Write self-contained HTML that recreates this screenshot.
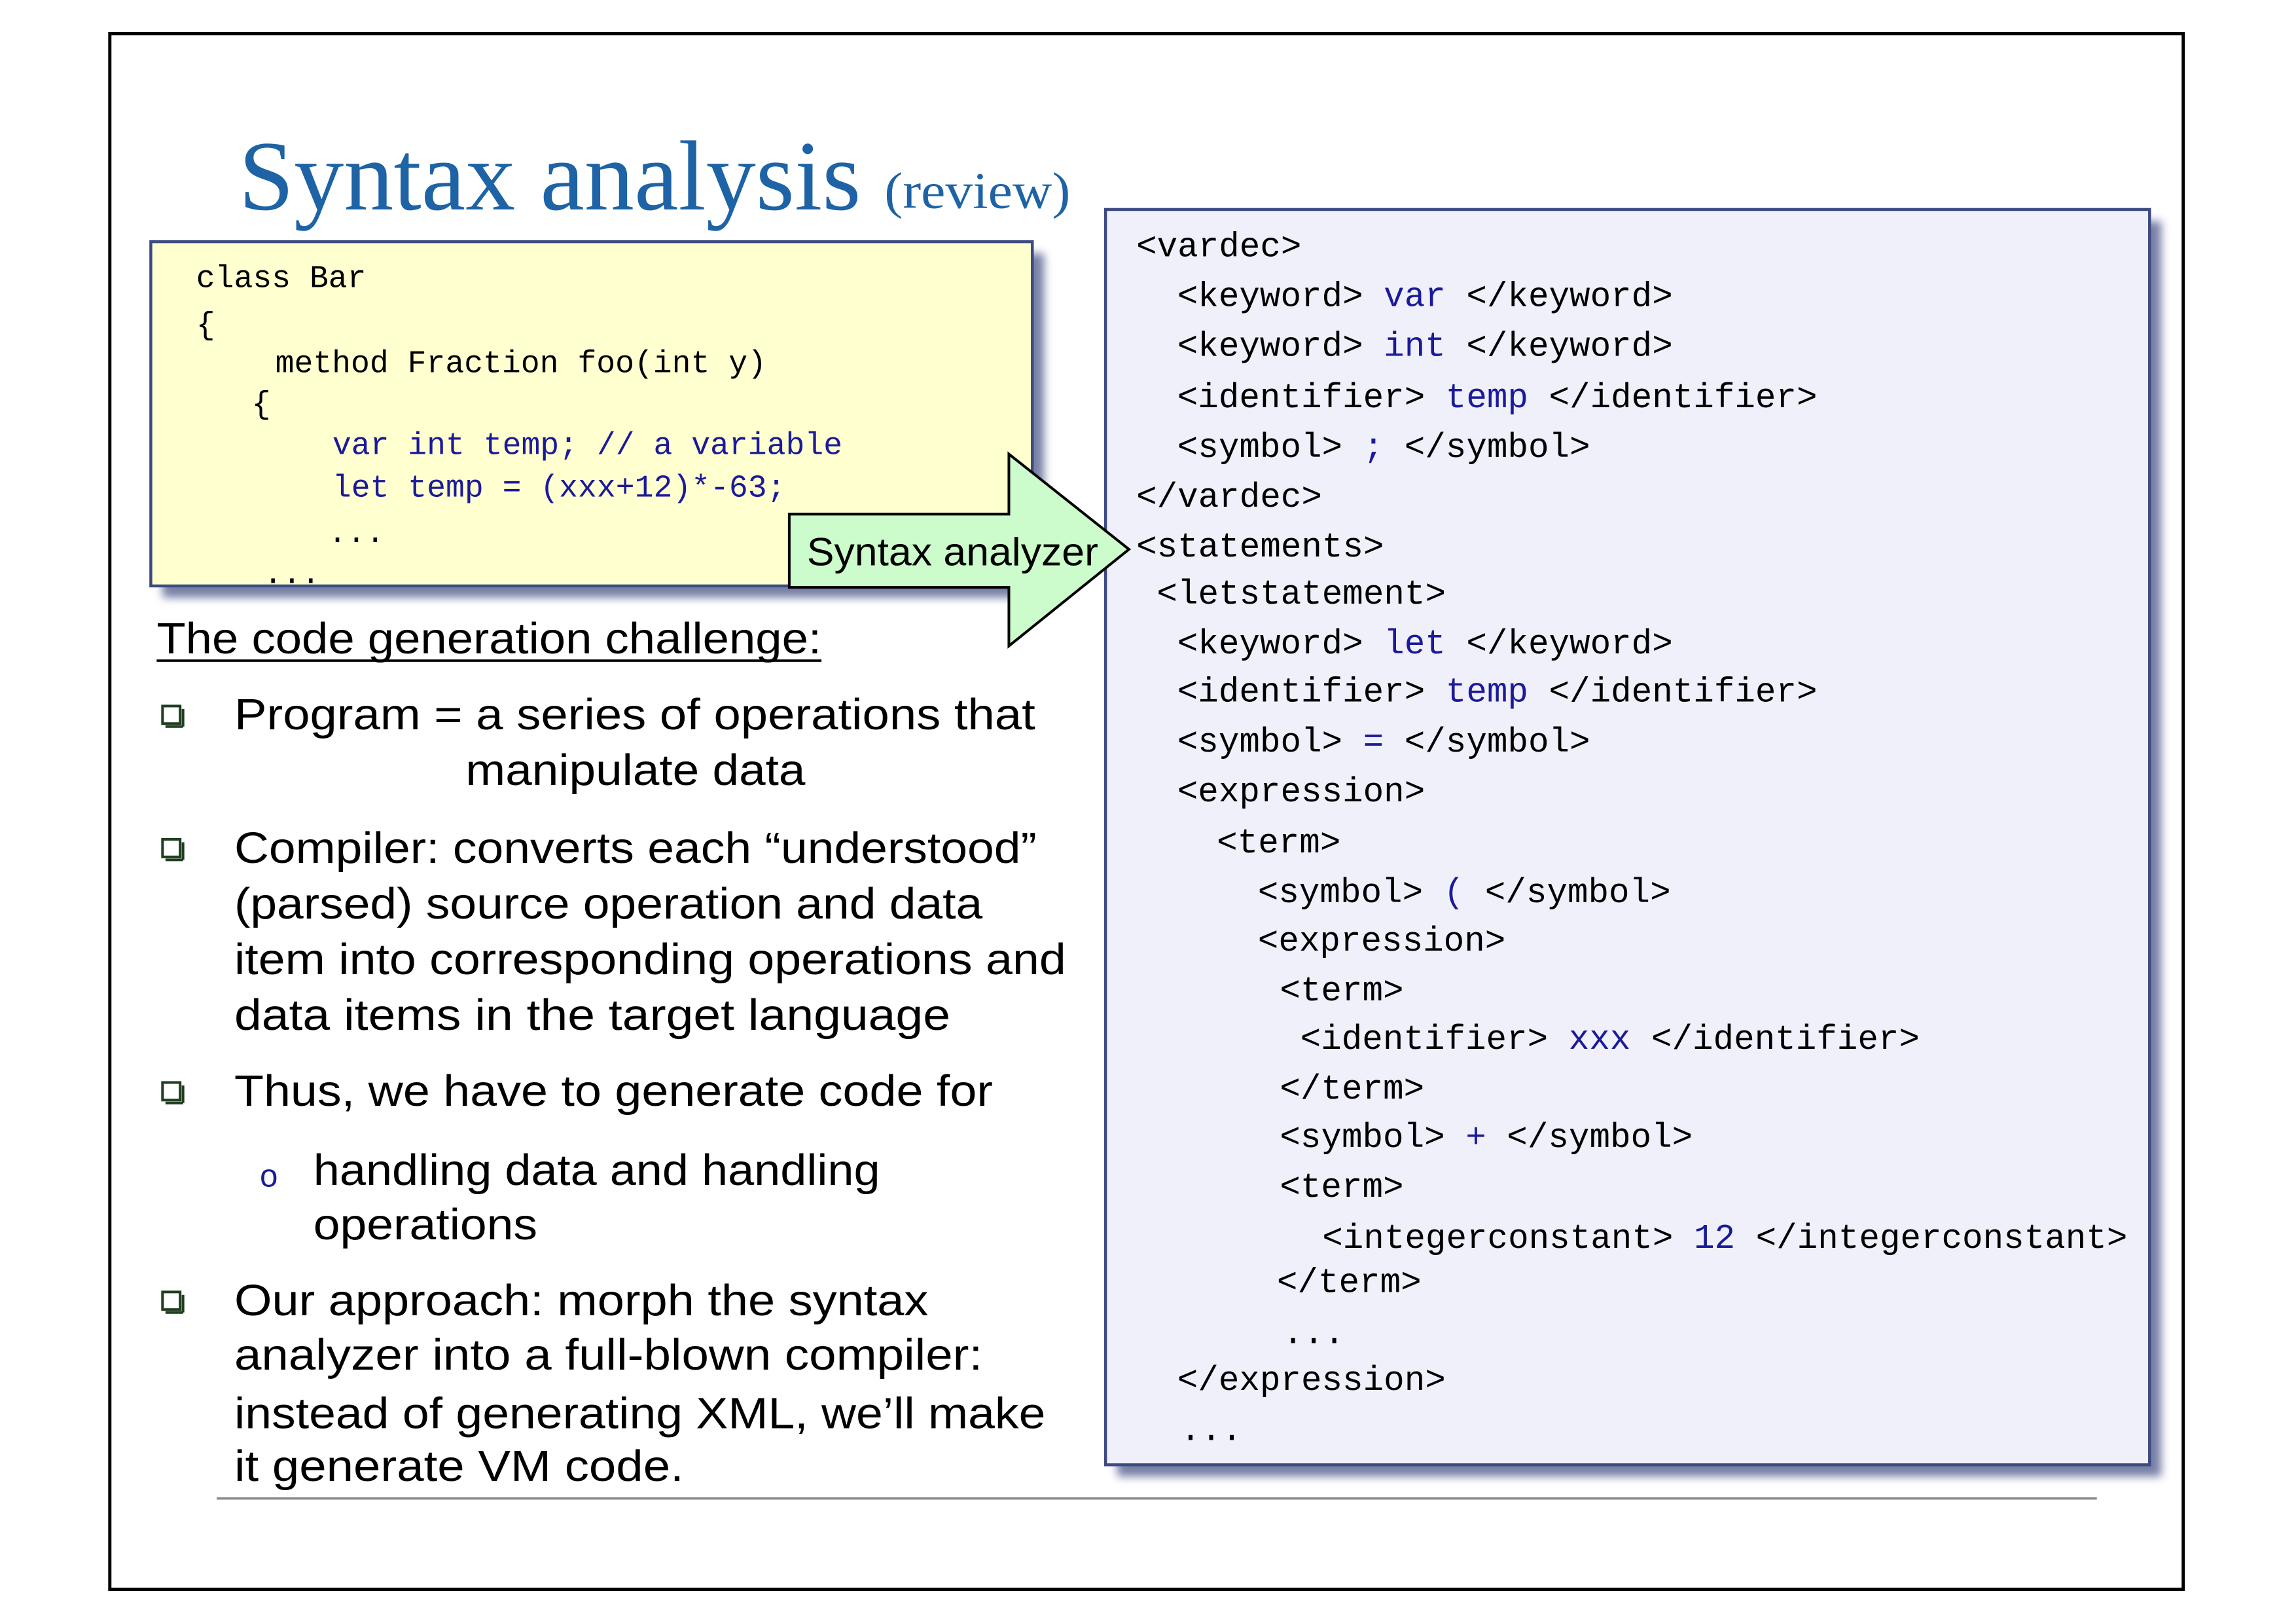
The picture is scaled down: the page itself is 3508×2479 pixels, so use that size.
<!DOCTYPE html>
<html><head><meta charset="utf-8"><style>html,body{margin:0;padding:0;background:#fff}svg{display:block}</style></head>
<body>
<svg xmlns="http://www.w3.org/2000/svg" width="3508" height="2479" viewBox="0 0 1568 1108" preserveAspectRatio="none">
<defs>
<filter id="sh" x="-10%" y="-10%" width="120%" height="120%"><feGaussianBlur stdDeviation="3"/></filter>
</defs>
<rect x="0" y="0" width="1568" height="1108" fill="#fff"/>
<rect x="75" y="23" width="1416" height="1062" fill="none" stroke="#000" stroke-width="2.2"/>
<text x="163" y="143" font-family="Liberation Serif, serif" font-size="68" fill="#1d63a6" textLength="425" lengthAdjust="spacingAndGlyphs">Syntax analysis</text>
<text x="604" y="142" font-family="Liberation Serif, serif" font-size="35" fill="#1d63a6" textLength="127" lengthAdjust="spacingAndGlyphs">(review)</text>
<rect x="111" y="173" width="602" height="235" fill="#4a5588" opacity="0.75" filter="url(#sh)"/>
<rect x="103" y="165" width="602" height="235" fill="#ffffd0" stroke="#3d4a82" stroke-width="2"/>
<g font-family="Liberation Mono, monospace" font-size="21.5" fill="#000">
<text x="134" y="196">class Bar</text>
<text x="134" y="228">{</text>
<text x="188" y="254">method Fraction foo(int y)</text>
<text x="172" y="282">{</text>
<text x="227" y="310" fill="#1a1a9a">var int temp; // a variable</text>
<text x="227" y="339" fill="#1a1a9a">let temp = (xxx+12)*-63;</text>
<text x="224" y="370">...</text>
<text x="180" y="398">...</text>
</g>
<rect x="763" y="151" width="713" height="857" fill="#4a5588" opacity="0.75" filter="url(#sh)"/>
<rect x="755" y="143" width="713" height="857" fill="#f0f0fb" stroke="#3d4a82" stroke-width="2"/>
<g font-family="Liberation Mono, monospace" font-size="23.5" fill="#000">
<text x="776" y="175">&lt;vardec&gt;</text>
<text x="804" y="209">&lt;keyword&gt; <tspan fill="#1a1a9a">var</tspan> &lt;/keyword&gt;</text>
<text x="804" y="243">&lt;keyword&gt; <tspan fill="#1a1a9a">int</tspan> &lt;/keyword&gt;</text>
<text x="804" y="278">&lt;identifier&gt; <tspan fill="#1a1a9a">temp</tspan> &lt;/identifier&gt;</text>
<text x="804" y="312">&lt;symbol&gt; <tspan fill="#1a1a9a">;</tspan> &lt;/symbol&gt;</text>
<text x="776" y="346">&lt;/vardec&gt;</text>
<text x="776" y="380">&lt;statements&gt;</text>
<text x="790" y="412">&lt;letstatement&gt;</text>
<text x="804" y="446">&lt;keyword&gt; <tspan fill="#1a1a9a">let</tspan> &lt;/keyword&gt;</text>
<text x="804" y="479">&lt;identifier&gt; <tspan fill="#1a1a9a">temp</tspan> &lt;/identifier&gt;</text>
<text x="804" y="513">&lt;symbol&gt; <tspan fill="#1a1a9a">=</tspan> &lt;/symbol&gt;</text>
<text x="804" y="547">&lt;expression&gt;</text>
<text x="831" y="582">&lt;term&gt;</text>
<text x="859" y="616">&lt;symbol&gt; <tspan fill="#1a1a9a">(</tspan> &lt;/symbol&gt;</text>
<text x="859" y="649">&lt;expression&gt;</text>
<text x="874" y="683">&lt;term&gt;</text>
<text x="888" y="716">&lt;identifier&gt; <tspan fill="#1a1a9a">xxx</tspan> &lt;/identifier&gt;</text>
<text x="874" y="750">&lt;/term&gt;</text>
<text x="874" y="783">&lt;symbol&gt; <tspan fill="#1a1a9a">+</tspan> &lt;/symbol&gt;</text>
<text x="874" y="817">&lt;term&gt;</text>
<text x="903" y="852">&lt;integerconstant&gt; <tspan fill="#1a1a9a">12</tspan> &lt;/integerconstant&gt;</text>
<text x="872" y="882">&lt;/term&gt;</text>
<text x="876" y="917">...</text>
<text x="804" y="949">&lt;/expression&gt;</text>
<text x="806" y="983">...</text>
</g>
<polygon points="539,351 689,351 689,310 771,375 689,441 689,401 539,401" fill="#ccfccc" stroke="#000" stroke-width="1.8"/>
<text x="551" y="386" font-family="Liberation Sans, sans-serif" font-size="27" fill="#000" textLength="199" lengthAdjust="spacingAndGlyphs">Syntax analyzer</text>
<g font-family="Liberation Sans, sans-serif" font-size="30" fill="#000">
<text x="107" y="446" textLength="454" lengthAdjust="spacingAndGlyphs">The code generation challenge:</text>
<line x1="107" y1="451" x2="561" y2="451" stroke="#000" stroke-width="1.6"/>
<text x="160" y="498" textLength="547" lengthAdjust="spacingAndGlyphs">Program = a series of operations that</text>
<text x="318" y="536" textLength="232" lengthAdjust="spacingAndGlyphs">manipulate data</text>
<text x="160" y="589" textLength="548" lengthAdjust="spacingAndGlyphs">Compiler: converts each “understood”</text>
<text x="160" y="627" textLength="511" lengthAdjust="spacingAndGlyphs">(parsed) source operation and data</text>
<text x="160" y="665" textLength="568" lengthAdjust="spacingAndGlyphs">item into corresponding operations and</text>
<text x="160" y="703" textLength="489" lengthAdjust="spacingAndGlyphs">data items in the target language</text>
<text x="160" y="755" textLength="518" lengthAdjust="spacingAndGlyphs">Thus, we have to generate code for</text>
<text x="214" y="809" textLength="387" lengthAdjust="spacingAndGlyphs">handling data and handling</text>
<text x="214" y="846" textLength="153" lengthAdjust="spacingAndGlyphs">operations</text>
<text x="160" y="898" textLength="474" lengthAdjust="spacingAndGlyphs">Our approach: morph the syntax</text>
<text x="160" y="935" textLength="511" lengthAdjust="spacingAndGlyphs">analyzer into a full-blown compiler:</text>
<text x="160" y="975" textLength="554" lengthAdjust="spacingAndGlyphs">instead of generating XML, we’ll make</text>
<text x="160" y="1011" textLength="307" lengthAdjust="spacingAndGlyphs">it generate VM code.</text>
</g>
<g fill="none" stroke="#1f3d1f" stroke-width="1.8">
<rect x="111" y="482" width="12" height="12"/>
<rect x="111" y="573" width="12" height="12"/>
<rect x="111" y="739" width="12" height="12"/>
<rect x="111" y="882" width="12" height="12"/>
<line x1="113" y1="496" x2="125" y2="496"/><line x1="125" y1="484" x2="125" y2="496"/>
<line x1="113" y1="587" x2="125" y2="587"/><line x1="125" y1="575" x2="125" y2="587"/>
<line x1="113" y1="753" x2="125" y2="753"/><line x1="125" y1="741" x2="125" y2="753"/>
<line x1="113" y1="896" x2="125" y2="896"/><line x1="125" y1="884" x2="125" y2="896"/>
</g>
<text x="177" y="810" font-family="Liberation Mono, monospace" font-size="22" fill="#1a1a9a">o</text>
<line x1="148" y1="1023" x2="1432" y2="1023" stroke="#888" stroke-width="1.5"/>
</svg>
</body></html>
